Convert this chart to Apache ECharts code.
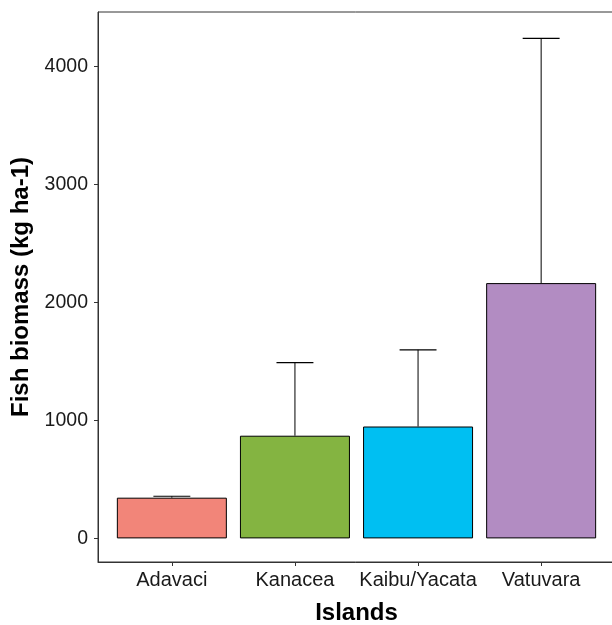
<!DOCTYPE html>
<html><head><meta charset="utf-8">
<script src="https://cdn.jsdelivr.net/npm/echarts@6/dist/echarts.min.js"></script>
<style>html,body{margin:0;padding:0;background:#fff}#c{width:612px;height:625px}</style>
</head><body><div id="c"></div>
<script>
const categories = ['Adavaci', 'Kanacea', 'Kaibu/Yacata', 'Vatuvara'];
const biomass = [345, 870, 948, 2163];
const upperError = [357, 1489, 1598, 4237];
const barColors = ['#F28579', '#84B441', '#00BFF2', '#B28CC2'];
const yTicks = [0, 1000, 2000, 3000, 4000];

const chart = echarts.init(document.getElementById('c'));
const font = 'Liberation Sans, Arial, sans-serif';
chart.setOption({
  animation: false,
  grid: { left: 98, right: -3, top: 12, bottom: 63, show: true, borderColor: '#333', borderWidth: 1, outerBoundsMode: 'none', containLabel: false },
  xAxis: {
    type: 'value', min: -0.6, max: 3.6,
    name: 'Islands', nameLocation: 'middle', nameGap: 39,
    nameTextStyle: { fontFamily: font, fontSize: 24, fontWeight: 'bold', color: '#000' },
    axisLine: { show: true, onZero: false, lineStyle: { color: '#333', width: 1 } },
    axisTick: { show: true, length: 4, customValues: [0, 1, 2, 3], lineStyle: { color: '#333' } },
    axisLabel: { customValues: [0, 1, 2, 3], formatter: v => categories[Math.round(v)], fontFamily: font, fontSize: 20, color: '#1a1a1a', margin: 8 },
    splitLine: { show: false }
  },
  yAxis: {
    type: 'value', min: -200, max: 4460,
    name: 'Fish biomass (kg ha-1)', nameLocation: 'middle', nameGap: 64,
    nameTextStyle: { fontFamily: font, fontSize: 24, fontWeight: 'bold', color: '#000' },
    axisLine: { show: true, onZero: false, lineStyle: { color: '#333', width: 1 } },
    axisTick: { show: true, length: 4, customValues: yTicks, lineStyle: { color: '#333' } },
    axisLabel: { customValues: yTicks, formatter: v => String(v), fontFamily: font, fontSize: 19.5, color: '#1a1a1a', margin: 10 },
    splitLine: { show: false }
  },
  series: [
    {
      type: 'custom',
      z: 1,
      renderItem: function (params, api) {
        const x = api.value(0), v = api.value(1), hi = api.value(2);
        const base = api.coord([x, v]);
        const top = api.coord([x, hi]);
        const l = api.coord([x - 0.15, hi]);
        const r = api.coord([x + 0.15, hi]);
        return { type: 'group', children: [
          { type: 'line', shape: { x1: base[0], y1: base[1], x2: top[0], y2: top[1] }, style: { stroke: '#000', lineWidth: 1 } },
          { type: 'line', shape: { x1: l[0], y1: l[1], x2: r[0], y2: r[1] }, style: { stroke: '#000', lineWidth: 1.2 } }
        ] };
      },
      data: categories.map((c, i) => [i, biomass[i], upperError[i]])
    },
    {
      type: 'bar',
      z: 2,
      barWidth: 110,
      data: categories.map((c, i) => ({ value: [i, biomass[i]], itemStyle: { color: barColors[i], borderColor: '#000', borderWidth: 1 } }))
    }
  ]
});
</script></body></html>
